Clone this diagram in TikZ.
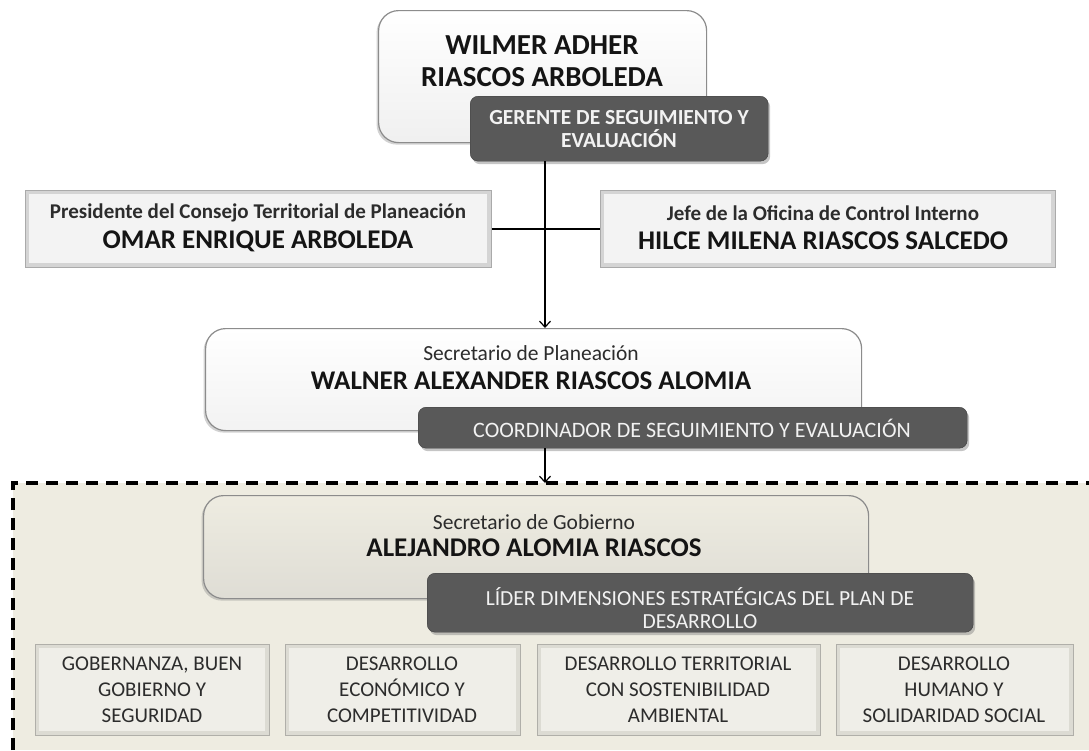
\documentclass[tikz,border=0pt]{standalone}
\usepackage{fontspec}
\setmainfont{Carlito}
\usetikzlibrary{shadows,arrows.meta}
\definecolor{darkbox}{HTML}{595959}
\definecolor{darkedge}{HTML}{3F3F3F}
\definecolor{lighttext}{HTML}{F2F2F2}
\definecolor{boxedge}{HTML}{8C8C8C}
\definecolor{beige}{HTML}{EEECE1}
\definecolor{beigebox}{HTML}{E9E7DE}
\definecolor{beigein}{HTML}{EFEEE8}
\definecolor{grayout}{HTML}{D4D4D4}
\definecolor{grayin}{HTML}{F3F3F3}
\definecolor{txt}{HTML}{141414}
\tikzset{
  roundbox/.style={draw=boxedge, line width=1.2pt, rounded corners=20pt, inner sep=0pt,
    top color=white, bottom color=#1, anchor=north west,
    drop shadow={shadow xshift=-2pt, shadow yshift=-2pt, opacity=0.35}},
  darkrole/.style={draw=darkedge, fill=darkbox, rounded corners=8pt, inner sep=0pt, anchor=north west,
    drop shadow={shadow xshift=2pt, shadow yshift=-3pt, opacity=0.45}},
  bevelbox/.style 2 args={draw=#1!80!black, line width=0.8pt, fill=#1, inner sep=0pt, anchor=north west,
    path picture={\fill[#2] ([shift={(4pt,-4pt)}]path picture bounding box.north west)
      rectangle ([shift={(-4pt,4pt)}]path picture bounding box.south east);}},
  nametext/.style={text=txt, align=center, font=\bfseries\fontsize{27}{31}\selectfont},
  subtext/.style={text=txt!90!white, align=center, font=\fontsize{21.5}{24}\selectfont},
  roletext/.style={text=lighttext, align=center, font=\fontsize{21.5}{24}\selectfont},
  dimtext/.style={text=txt!90!white, align=center, font=\fontsize{21}{26}\selectfont},
  conn/.style={draw=black, line width=1.4pt},
  arr/.style={conn, -{Straight Barb[length=6pt,width=11pt,line width=1.2pt]}}
}
\begin{document}
\begin{tikzpicture}[x=1pt,y=-1pt]
\useasboundingbox (0,0) rectangle (1089,750);
\fill[white] (0,0) rectangle (1089,750);
% dashed region
\fill[beige] (13,483) rectangle (1089,750);
\draw[line width=3.2pt, dash pattern=on 12pt off 8pt] (13,750) -- (13,483) -- (1089,483);
\coordinate (regtop) at (545,483);

% top
\node[roundbox=gray!12, minimum width=328pt, minimum height=132pt] (wilmer) at (378,10) {};
\node[nametext, font=\bfseries\fontsize{29}{32}\selectfont] (wilmerN) at (542,61) {WILMER ADHER\\RIASCOS ARBOLEDA};
\node[darkrole, minimum width=298pt, minimum height=65pt] (gerente) at (470,96) {};
\node[roletext, font=\bfseries\fontsize{21.5}{23}\selectfont] (gerenteT) at (619,129) {GERENTE DE SEGUIMIENTO Y\\EVALUACIÓN};

% side boxes
\node[bevelbox={grayout}{grayin}, minimum width=466pt, minimum height=77pt] (pres) at (25,190) {};
\node[subtext, font=\bfseries\fontsize{21}{24}\selectfont] (presT) at (258,213) {Presidente del Consejo Territorial de Planeación};
\node[nametext] (presN) at (258,241) {OMAR ENRIQUE ARBOLEDA};
\node[bevelbox={grayout}{grayin}, minimum width=455pt, minimum height=77pt] (jefe) at (600,190) {};
\node[subtext, font=\bfseries\fontsize{21}{24}\selectfont] (jefeT) at (823,213) {Jefe de la Oficina de Control Interno};
\node[nametext] (jefeN) at (823,241) {HILCE MILENA RIASCOS SALCEDO};

% planeacion
\node[roundbox=gray!10, minimum width=656pt, minimum height=102pt] (walner) at (205,328) {};
\node[subtext] (walnerT) at (531,353) {Secretario de Planeación};
\node[nametext] (walnerN) at (531,381) {WALNER ALEXANDER RIASCOS ALOMIA};
\node[darkrole, minimum width=549pt, minimum height=41pt] (coord) at (418,407) {};
\node[roletext, font=\fontsize{22}{24}\selectfont] (coordT) at (692,428) {COORDINADOR DE SEGUIMIENTO Y EVALUACIÓN};

% gobierno
\node[roundbox=beigebox!90!gray, top color=beige, minimum width=665pt, minimum height=103pt] (gob) at (203,495) {};
\node[subtext] (gobT) at (534,522) {Secretario de Gobierno};
\node[nametext] (gobN) at (534,548) {ALEJANDRO ALOMIA RIASCOS};
\node[darkrole, minimum width=546pt, minimum height=59pt] (lider) at (427,573) {};
\node[roletext, font=\fontsize{21.5}{23}\selectfont] (liderT) at (700,608) {LÍDER DIMENSIONES ESTRATÉGICAS DEL PLAN DE\\DESARROLLO};

% dimensions
\node[bevelbox={beigebox!88!gray}{beigein}, minimum width=234pt, minimum height=91pt] (d1) at (35,644) {};
\node[dimtext] (d1T) at (152,690) {GOBERNANZA, BUEN\\GOBIERNO Y\\SEGURIDAD};
\node[bevelbox={beigebox!88!gray}{beigein}, minimum width=235pt, minimum height=91pt] (d2) at (285,644) {};
\node[dimtext] (d2T) at (402,690) {DESARROLLO\\ECONÓMICO Y\\COMPETITIVIDAD};
\node[bevelbox={beigebox!88!gray}{beigein}, minimum width=283pt, minimum height=91pt] (d3) at (537,644) {};
\node[dimtext] (d3T) at (678,690) {DESARROLLO TERRITORIAL\\CON SOSTENIBILIDAD\\AMBIENTAL};
\node[bevelbox={beigebox!88!gray}{beigein}, minimum width=237pt, minimum height=91pt] (d4) at (836,644) {};
\node[dimtext] (d4T) at (954,690) {DESARROLLO\\HUMANO Y\\SOLIDARIDAD SOCIAL};

% connectors
\draw[arr] (regtop |- gerente.south) -- (regtop |- walner.north);
\draw[conn] (pres.east) -- (jefe.west);
\draw[arr] (regtop |- coord.south) -- (regtop);
\end{tikzpicture}
\end{document}
